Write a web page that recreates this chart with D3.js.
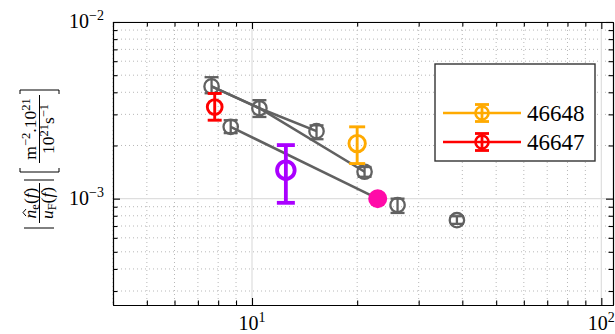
<!DOCTYPE html>
<html>
<head>
<meta charset="UTF-8">
<script src="https://cdn.jsdelivr.net/npm/d3@7"></script>
</head>
<body style="margin:0">
<svg id="chart" width="615" height="334"></svg>
<script>
// gray reference points
const grayF  = [7.66, 10.5, 15.3, 8.69, 21.0, 26.1, 38.6];
const grayV  = [4.32e-3, 3.25e-3, 2.41e-3, 2.55e-3, 1.42e-3, 9.2e-4, 7.55e-4];
const grayLo = [3.95e-3, 2.90e-3, 2.17e-3, 2.35e-3, 1.33e-3, 8.3e-4, 7.2e-4];
const grayHi = [4.87e-3, 3.61e-3, 2.60e-3, 2.78e-3, 1.51e-3, 1.0e-3, 7.95e-4];

// pink marker (filled)
const pinkF = 22.9, pinkV = 1.0e-3;

// gray connecting lines, by point index ("p" = pink marker)
const grayLines = [[0, 1, 2], [0, 1, 4], [3, "p"]];

// coloured shots
const shotNames = ["46648", "46647", ""];
const shotF  = [20.0, 7.82, 12.5];
const shotV  = [2.05e-3, 3.30e-3, 1.45e-3];
const shotLo = [1.58e-3, 2.78e-3, 9.47e-4];
const shotHi = [2.55e-3, 3.94e-3, 2.01e-3];
const shotColors = ["#ffaa00", "#ff0000", "#aa00ff"];

const xMajor = [10, 100];
const yMajor = [1e-3, 1e-2];
const xTickLabels = ["1", "2"];
const yTickLabels = ["\u22123", "\u22122"];

const serif = "Liberation Serif";
const gray = "#616161";

let svg = d3.select("#chart").style("font-family", `"${serif}"`);
let L = 113, R = 613, T = 22, B = 305;

let x = d3.scaleLog().domain([4, 108]).range([L, R]);
let y = d3.scaleLog().domain([2.5e-4, 1e-2]).range([B, T]);

// minor tick values
let xMinor = [], yMinor = [];
[1, 10].forEach(d => { for (let k = 1; k <= 9; k++) { let v = k * d; if (v >= 4 && v <= 108 && xMajor.indexOf(v) < 0) xMinor.push(v); } });
[1e-4, 1e-3].forEach(d => { for (let k = 1; k <= 9; k++) { let v = +(k * d).toPrecision(3); if (v >= 2.5e-4 && v <= 1e-2 && yMajor.indexOf(v) < 0) yMinor.push(v); } });

// grid
let grid = svg.append("g");
grid.selectAll(".gxm").data(xMinor).enter().append("line")
    .attr("x1", d => x(d)).attr("x2", d => x(d)).attr("y1", T).attr("y2", B)
    .attr("stroke", "#b8b8b8").attr("stroke-width", 1).attr("stroke-dasharray", "1 3");
grid.selectAll(".gym").data(yMinor).enter().append("line")
    .attr("y1", d => y(d)).attr("y2", d => y(d)).attr("x1", L).attr("x2", R)
    .attr("stroke", "#b8b8b8").attr("stroke-width", 1).attr("stroke-dasharray", "1 3");
grid.selectAll(".gxM").data(xMajor).enter().append("line")
    .attr("x1", d => x(d)).attr("x2", d => x(d)).attr("y1", T).attr("y2", B)
    .attr("stroke", "#dedede").attr("stroke-width", 1.2);
grid.selectAll(".gyM").data(yMajor).enter().append("line")
    .attr("y1", d => y(d)).attr("y2", d => y(d)).attr("x1", L).attr("x2", R)
    .attr("stroke", "#dedede").attr("stroke-width", 1.2);

// axes, ticks pointing inward on all four sides
function addAxis(axisFn, scale, transform, vals, size) {
    let g = svg.append("g").attr("transform", transform)
        .call(axisFn(scale).tickValues(vals).tickSizeInner(-size).tickSizeOuter(0).tickFormat(""));
    g.attr("font-family", null);
    g.select(".domain").attr("stroke", "#000").attr("stroke-width", 1.1);
    g.selectAll(".tick line").attr("stroke", "#000").attr("stroke-width", 1.1);
    return g;
}
addAxis(d3.axisBottom, x, `translate(0,${B})`, xMinor, 4.5);
addAxis(d3.axisBottom, x, `translate(0,${B})`, xMajor, 7);
addAxis(d3.axisTop, x, `translate(0,${T})`, xMinor, 4.5);
addAxis(d3.axisTop, x, `translate(0,${T})`, xMajor, 7);
addAxis(d3.axisLeft, y, `translate(${L},0)`, yMinor, 4.5);
addAxis(d3.axisLeft, y, `translate(${L},0)`, yMajor, 7);
addAxis(d3.axisRight, y, `translate(${R},0)`, yMinor, 4.5);
addAxis(d3.axisRight, y, `translate(${R},0)`, yMajor, 7);

// tick labels
xMajor.forEach((v, i) => {
    let t = svg.append("text").attr("x", x(v)).attr("y", B + 25)
        .attr("text-anchor", "middle").style("font-family", `"${serif}"`).attr("font-size", 20);
    t.append("tspan").text("10");
    t.append("tspan").attr("font-size", 14).attr("dy", -8).text(xTickLabels[i]);
});
yMajor.forEach((v, i) => {
    let t = svg.append("text").attr("x", 104).attr("y", y(v) + 6)
        .attr("text-anchor", "end").style("font-family", `"${serif}"`).attr("font-size", 20);
    t.append("tspan").text("10");
    t.append("tspan").attr("font-size", 14).attr("dy", -8).text(yTickLabels[i]);
});

// gray lines
let pos = i => i === "p" ? [x(pinkF), y(pinkV)] : [x(grayF[i]), y(grayV[i])];
let line = d3.line();
svg.append("g").selectAll("path").data(grayLines).enter().append("path")
    .attr("d", d => line(d.map(pos)))
    .attr("fill", "none").attr("stroke", gray).attr("stroke-width", 2.6);

// errorbar helper
function errorbar(g, f, v, lo, hi, color, r, sw, cap) {
    let cx = x(f);
    g.append("line").attr("x1", cx).attr("x2", cx).attr("y1", y(lo)).attr("y2", y(hi))
        .attr("stroke", color).attr("stroke-width", sw);
    [lo, hi].forEach(e => g.append("line").attr("x1", cx - cap / 2).attr("x2", cx + cap / 2)
        .attr("y1", y(e)).attr("y2", y(e)).attr("stroke", color).attr("stroke-width", sw));
    g.append("circle").attr("cx", cx).attr("cy", y(v)).attr("r", r)
        .attr("fill", "none").attr("stroke", color).attr("stroke-width", sw);
}

let gpts = svg.append("g");
grayF.forEach((f, i) => errorbar(gpts, f, grayV[i], grayLo[i], grayHi[i], gray, 7.2, 2.3, 14));

svg.append("circle").attr("cx", x(pinkF)).attr("cy", y(pinkV)).attr("r", 9.5)
    .attr("fill", "#ff0aa8");

let shotStyle = [{r: 8.2, sw: 2.9, cap: 16}, {r: 7.4, sw: 2.9, cap: 14}, {r: 8.8, sw: 3.8, cap: 18}];
let gs = svg.append("g");
shotF.forEach((f, i) => errorbar(gs, f, shotV[i], shotLo[i], shotHi[i], shotColors[i],
    shotStyle[i].r, shotStyle[i].sw, shotStyle[i].cap));

// legend
let lg = svg.append("g");
lg.append("rect").attr("x", 435).attr("y", 64).attr("width", 160).attr("height", 97)
    .attr("fill", "#fff").attr("stroke", "#333").attr("stroke-width", 1.4);
[0, 1].forEach(i => {
    let ly = 113 + i * 29, c = shotColors[i];
    lg.append("line").attr("x1", 443).attr("x2", 521).attr("y1", ly).attr("y2", ly)
        .attr("stroke", c).attr("stroke-width", 2.6);
    lg.append("line").attr("x1", 482).attr("x2", 482).attr("y1", ly - 8.5).attr("y2", ly + 8.5)
        .attr("stroke", c).attr("stroke-width", 2.8);
    [-8.5, 8.5].forEach(o => lg.append("line").attr("x1", 475).attr("x2", 489)
        .attr("y1", ly + o).attr("y2", ly + o).attr("stroke", c).attr("stroke-width", 2.8));
    lg.append("circle").attr("cx", 482).attr("cy", ly).attr("r", 6.5)
        .attr("fill", "none").attr("stroke", c).attr("stroke-width", 2.6);
    lg.append("text").attr("x", 527).attr("y", ly + 7.5).style("font-family", `"${serif}"`)
        .attr("font-size", 23).text(shotNames[i]);
});

// y label (rotated math text)
let lab = svg.append("g").attr("transform", "translate(39,159) rotate(-90)")
    .attr("font-size", 17.5);
let stroke = p => lab.append("path").attr("d", p).attr("fill", "none").attr("stroke", "#000").attr("stroke-width", 1);
stroke("M-69,-15V15");
stroke("M-21,-15V15");
stroke("M-9,-19H-13V20H-9");
stroke("M65,-19H69V20H65");
stroke("M-64,0.5H-24");
stroke("M-4,0.5H64");

let n1 = lab.append("text").attr("x", -44).attr("y", -3).attr("text-anchor", "middle").style("font-family", `"${serif}"`);
n1.append("tspan").attr("font-style", "italic").text("n");
n1.append("tspan").attr("font-size", 12.5).attr("dy", 3).text("e");
n1.append("tspan").attr("dy", -3).text("(");
n1.append("tspan").attr("font-style", "italic").text("f");
n1.append("tspan").text(")");
let d1 = lab.append("text").attr("x", -44).attr("y", 14).attr("text-anchor", "middle").style("font-family", `"${serif}"`);
d1.append("tspan").attr("font-style", "italic").text("u");
d1.append("tspan").attr("font-size", 12.5).attr("dy", 3).text("F");
d1.append("tspan").attr("dy", -3).text("(");
d1.append("tspan").attr("font-style", "italic").text("f");
d1.append("tspan").text(")");
// hat over n
let ns = n1.node().getStartPositionOfChar(0), ne = n1.node().getEndPositionOfChar(0);
let hm = (ns.x + ne.x) / 2 + 1.5;
stroke(`M${hm - 3.5},-13L${hm},-16L${hm + 3.5},-13`);

let n2 = lab.append("text").attr("x", 30).attr("y", -3).attr("text-anchor", "middle").style("font-family", `"${serif}"`);
n2.append("tspan").text("m");
n2.append("tspan").attr("font-size", 12.5).attr("dy", -6).text("\u22122");
n2.append("tspan").attr("dy", 6).text(".10");
n2.append("tspan").attr("font-size", 12.5).attr("dy", -6).text("21");
let d2 = lab.append("text").attr("x", 30).attr("y", 15).attr("text-anchor", "middle").style("font-family", `"${serif}"`);
d2.append("tspan").text("10");
d2.append("tspan").attr("font-size", 12.5).attr("dy", -6).text("21");
d2.append("tspan").attr("dy", 6).text("s");
d2.append("tspan").attr("font-size", 12.5).attr("dy", -6).text("\u22121");
</script>
</body>
</html>
